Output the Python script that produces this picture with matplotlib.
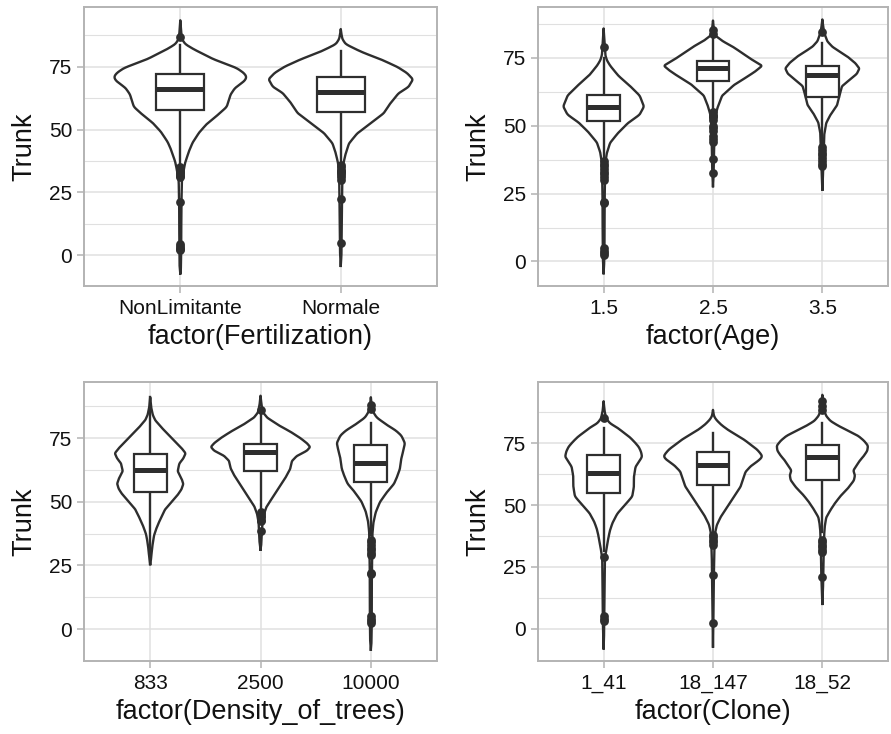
"""Violin + boxplot grid of Trunk by four factors (ggplot theme_light look)."""
import numpy as np
import matplotlib
matplotlib.use("Agg")
import matplotlib.pyplot as plt
from matplotlib.patches import Rectangle

plt.rcParams["font.family"] = ["Liberation Sans", "DejaVu Sans"]

INK = "#2E2E2E"
GRID = "#E0E0E0"
FRAME = "#B3B3B3"

# ---- Fertilization -------------------------------------------------------
FERT_LABELS = ["NonLimitante", "Normale"]
# violin outline: (Trunk value, relative half width)
FERT_VIOLINS = [
    [(93.5, 0), (90, 2), (88, 3), (86, 5), (84, 15), (82, 40), (80, 70), (78, 100),
     (76, 140), (74.5, 170), (72.5, 192), (71, 200), (69.5, 195), (68, 180),
     (66.5, 165), (64, 152), (61, 145), (59, 140), (56, 115), (52.5, 82), (49, 58),
     (45, 38), (42, 28), (37, 15), (33, 9), (30, 5), (25, 4), (15, 3), (5, 3),
     (-5, 2), (-7.3, 0)],
    [(90, 0), (88, 2), (86, 5), (84, 15), (82, 45), (80.5, 70), (78, 120), (75, 170),
     (72.5, 200), (70, 218), (67, 205), (64.5, 175), (60.5, 150), (56.5, 130),
     (52.5, 90), (48.5, 50), (44.5, 25), (40.5, 15), (36.5, 8), (33, 5), (25, 4),
     (10, 3), (0, 2), (-4.3, 0)],
]
# whisker low, Q1, median, Q3, whisker high
FERT_BOXES = [[36.5, 57.8, 66.1, 72.2, 83.5], [35.8, 56.9, 65.0, 71.1, 81.1]]
FERT_OUTLIERS = [
    [87, 35, 34.5, 34, 33.5, 33, 32.5, 32, 31.5, 31, 21, 4.5, 3.5, 3, 2.5, 2],
    [36, 35, 34, 33.5, 33, 32.5, 32, 31, 30, 22.2, 4.9],
]

# ---- Age -----------------------------------------------------------------
AGE_LABELS = ["1.5", "2.5", "3.5"]
AGE_VIOLINS = [
    [(85.7, 0), (82, 2), (80, 3), (76, 5), (74, 10), (72, 20), (68.3, 45),
     (64.6, 80), (61, 110), (57, 123), (54, 110), (51, 75), (47.4, 45),
     (43.7, 20), (40, 10), (36, 5), (30, 4), (20, 3), (10, 3), (0, 2), (-4.3, 0)],
    [(88.6, 0), (85, 3), (83, 8), (81, 30), (79, 60), (77, 85), (74.5, 115),
     (72, 150), (70, 130), (68, 105), (65, 65), (61, 28), (57, 15), (54, 8),
     (50, 5), (40, 3), (32, 2), (27.7, 0)],
    [(89, 0), (86, 3), (84, 6), (81, 15), (79, 30), (77, 55), (75.5, 75), (73, 100),
     (71, 113), (69, 105), (67, 85), (64.5, 60), (61, 52), (57.5, 45), (54, 25),
     (51, 12), (47, 6), (43, 5), (35, 3), (26.4, 0)],
]
AGE_BOXES = [[37, 51.5, 56.8, 61.3, 75], [55.3, 66.4, 71.0, 73.8, 82],
             [43.5, 60.5, 68.5, 72.0, 80.2]]
AGE_OUTLIERS = [
    [79, 37, 36, 35, 34, 33, 32, 31, 30, 22, 21.5, 5, 4, 3, 2.5],
    [85, 83.6, 55, 54, 53.5, 53, 52, 50, 49, 48, 46, 45, 44, 37.7, 32.5],
    [84.3, 42, 41, 40, 39, 38, 37, 36, 35],
]

# ---- Density of trees ----------------------------------------------------
DENS_LABELS = ["833", "2500", "10000"]
DENS_VIOLINS = [
    [(91, 0), (87, 3), (84, 8), (82, 15), (79, 35), (77, 50), (75, 65), (73, 80),
     (71, 95), (69, 107), (67, 100), (65, 88), (62, 83), (59, 95), (57, 100),
     (55, 95), (53, 85), (50, 65), (47, 45), (43, 30), (40, 20), (37, 12), (34, 8),
     (31, 5), (28, 3), (25.5, 0)],
    [(91.6, 0), (88, 3), (85, 8), (83, 20), (80, 55), (77.5, 90), (75, 120),
     (73, 140), (71.5, 150), (70, 140), (68, 110), (66, 95), (63, 90), (60, 78),
     (56, 58), (52, 38), (48, 18), (45, 10), (42, 6), (38, 4), (34, 3), (31.2, 0)],
    [(91, 0), (87, 3), (85, 8), (83, 18), (80, 50), (78, 75), (76, 92), (73, 103),
     (70, 98), (67, 92), (63, 88), (60, 80), (57, 70), (54, 50), (50, 28), (46, 15),
     (42, 8), (38, 5), (30, 4), (20, 3), (5, 3), (-5, 2), (-8.1, 0)],
]
DENS_BOXES = [[25.5, 53.7, 62.3, 68.8, 91], [46.5, 62.2, 69.4, 72.8, 84],
              [37, 57.6, 65.2, 72.4, 80.9]]
DENS_OUTLIERS = [
    [],
    [86, 46, 45, 44.5, 44, 43, 42.5, 38.5],
    [88, 86.5, 35, 34, 33, 32, 31, 30, 29, 22, 21.5, 5, 4, 3, 2.5],
]

# ---- Clone ---------------------------------------------------------------
CLONE_LABELS = ["1_41", "18_147", "18_52"]
CLONE_VIOLINS = [
    [(92, 0), (88, 3), (85, 8), (83, 20), (81.5, 40), (79.5, 60), (77.5, 80),
     (75.5, 95), (73.5, 108), (71.5, 115), (69.5, 118), (67.5, 108), (65.5, 98),
     (61.5, 93), (57.5, 93), (53.5, 88), (51, 72), (48.5, 55), (46.5, 42), (43, 28),
     (40, 20), (37, 15), (34, 11), (31, 7), (28, 4), (15, 3), (0, 2), (-8, 0)],
    [(88.5, 0), (86, 3), (84.5, 10), (82.5, 25), (80.5, 45), (78.5, 70),
     (76.5, 95), (74.5, 115), (72.5, 135), (70.5, 148), (69.5, 151), (68, 140),
     (66, 118), (63.5, 100), (61.5, 95), (57.5, 85), (53.5, 65), (49.5, 45),
     (45.5, 25), (42, 12), (39, 7), (36, 5), (25, 3), (10, 2), (-7.3, 0)],
    [(94.6, 0), (91, 3), (88, 6), (86, 12), (84, 25), (82, 50), (80, 80), (78, 110),
     (76, 128), (74, 140), (72, 138), (70, 128), (68, 115), (66, 105), (64, 95),
     (62, 100), (60, 97), (57, 80), (54, 58), (51, 40), (48, 25), (45, 12), (42, 8),
     (39, 6), (30, 4), (20, 3), (10, 0)],
]
CLONE_BOXES = [[31.5, 54.8, 62.9, 70.3, 81.1], [38.5, 58.2, 66.4, 71.3, 79.1],
               [39, 60.2, 69.6, 74.4, 83.4]]
CLONE_OUTLIERS = [
    [85.2, 29, 5, 4, 3],
    [38, 37, 36, 35, 34, 21.7, 2.2],
    [92, 90, 88.5, 36, 35, 34, 33, 32, 31, 21],
]


def smooth_profile(profile):
    pts = sorted(profile)
    v = np.array([p[0] for p in pts], float)
    w = np.array([p[1] for p in pts], float)
    yy = np.linspace(v[0], v[-1], 600)
    ww = np.interp(yy, v, w)
    k = 9
    kern = np.ones(k) / k
    pad = np.pad(ww, k // 2, mode="edge")
    ws = np.convolve(pad, kern, mode="valid")
    ws[0] = ws[-1] = 0
    return yy, ws


def draw_panel(ax, labels, violins, boxes, outliers, xlabel, ylim):
    peak = max(max(p[1] for p in prof) for prof in violins)
    for i, (prof, box, outs) in enumerate(zip(violins, boxes, outliers)):
        x = i + 1
        yy, ws = smooth_profile(prof)
        half = ws / peak * 0.45
        ax.fill_betweenx(yy, x - half, x + half, color="white", zorder=2, lw=0)
        ax.plot(np.concatenate([x - half, (x + half)[::-1]]),
                np.concatenate([yy, yy[::-1]]),
                color=INK, lw=1.7, zorder=3, solid_joinstyle="round")
        lo, q1, med, q3, hi = box
        ax.plot([x, x], [hi, q3], color=INK, lw=1.7, zorder=4)
        ax.plot([x, x], [q1, lo], color=INK, lw=1.7, zorder=4)
        ax.add_patch(Rectangle((x - 0.15, q1), 0.3, q3 - q1, facecolor="white",
                               edgecolor=INK, lw=1.6, zorder=5))
        ax.plot([x - 0.15, x + 0.15], [med, med], color=INK, lw=3.6, zorder=6,
                solid_capstyle="butt")
        if outs:
            ax.plot([x] * len(outs), outs, "o", color=INK, ms=6.3, mew=0, zorder=4)

    ax.set_xlim(0.4, len(labels) + 0.6)
    ax.set_ylim(*ylim)
    ax.set_xticks(range(1, len(labels) + 1))
    ax.set_xticklabels(labels)
    ax.set_yticks([0, 25, 50, 75])
    ax.set_yticks([12.5, 37.5, 62.5, 87.5], minor=True)
    ax.grid(True, which="major", color=GRID, lw=1.1, zorder=0)
    ax.grid(True, which="minor", axis="y", color=GRID, lw=0.8, zorder=0)
    ax.set_axisbelow(True)
    for s in ax.spines.values():
        s.set_color(FRAME)
        s.set_linewidth(1.4)
    ax.tick_params(which="major", length=5, width=1.1, color=FRAME, pad=4.5,
                   labelsize=15, labelcolor="#111111")
    ax.tick_params(axis="y", which="major", pad=3.5)
    ax.tick_params(which="minor", length=0)
    ax.set_xlabel(xlabel, fontsize=19.5, labelpad=4, color="#111111")
    ax.set_ylabel("Trunk", fontsize=19.5, labelpad=8, color="#111111")


fig = plt.figure(figsize=(8.91, 7.34), dpi=100)
ax1 = fig.add_axes([0.0943, 0.6104, 0.3962, 0.3801])
ax2 = fig.add_axes([0.6038, 0.6104, 0.3928, 0.3801])
ax3 = fig.add_axes([0.0943, 0.0995, 0.3962, 0.3801])
ax4 = fig.add_axes([0.6038, 0.0995, 0.3928, 0.3801])

draw_panel(ax1, FERT_LABELS, FERT_VIOLINS, FERT_BOXES, FERT_OUTLIERS,
           "factor(Fertilization)", (-12.3, 98.8))
draw_panel(ax2, AGE_LABELS, AGE_VIOLINS, AGE_BOXES, AGE_OUTLIERS,
           "factor(Age)", (-9.0, 93.6))
draw_panel(ax3, DENS_LABELS, DENS_VIOLINS, DENS_BOXES, DENS_OUTLIERS,
           "factor(Density_of_trees)", (-12.5, 97.0))
draw_panel(ax4, CLONE_LABELS, CLONE_VIOLINS, CLONE_BOXES, CLONE_OUTLIERS,
           "factor(Clone)", (-13.1, 99.8))

fig.savefig("out.png", dpi=100)
